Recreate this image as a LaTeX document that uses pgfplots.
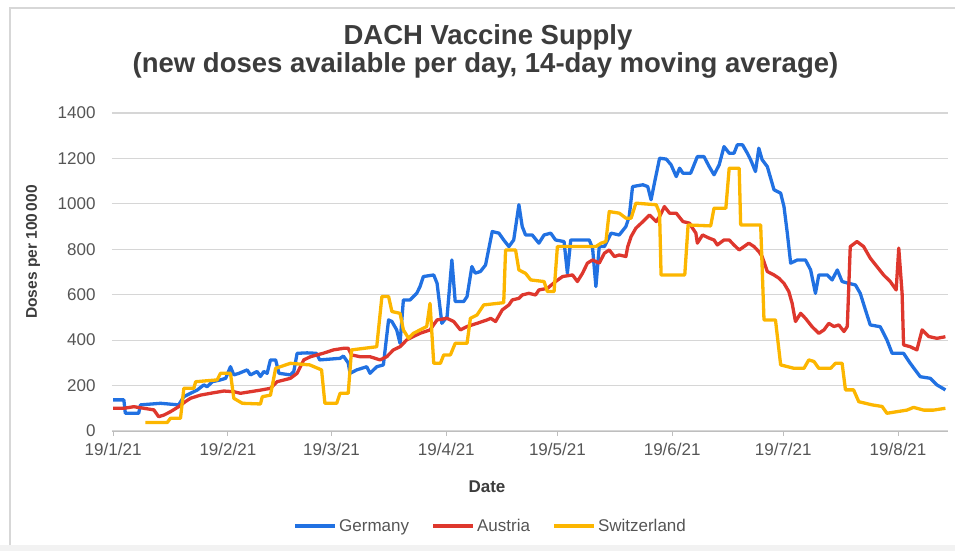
\documentclass[border=0pt]{standalone}
\usepackage{pgfplots}
\pgfplotsset{compat=1.18}
\usepackage{fontspec}
\setmainfont{Liberation Sans}
\definecolor{gblue}{RGB}{33,113,226}
\definecolor{gred}{RGB}{222,55,45}
\definecolor{gorange}{RGB}{252,182,0}
\definecolor{gridgray}{RGB}{214,214,214}
\definecolor{axisgray}{RGB}{190,190,190}
\definecolor{labelgray}{RGB}{85,85,85}
\definecolor{titlegray}{RGB}{60,60,60}
\definecolor{framegray}{RGB}{215,215,215}
\definecolor{bandgray}{RGB}{242,242,242}
\begin{document}
\begin{tikzpicture}[x=1pt,y=1pt]
\path[use as bounding box] (-112,-120) rectangle (843,431);
\fill[bandgray] (-112,-120) rectangle (843,-114);
\draw[framegray, line width=1.5pt] (-102,-114) -- (-102,423) -- (843,423);
\node[anchor=base, font=\bfseries\fontsize{27.5}{28}\selectfont, text=titlegray] at (376,386) {DACH Vaccine Supply};
\node[anchor=base, font=\bfseries\fontsize{27.5}{28}\selectfont, text=titlegray] at (373.5,358) {(new doses available per day, 14-day moving average)};
\begin{axis}[
  scale only axis, width=836pt, height=318pt,
  at={(0,0)}, anchor=south west,
  xmin=-0.3, xmax=225.5, ymin=0, ymax=1400,
  axis x line*=bottom, axis y line*=left,
  x axis line style={draw=axisgray, line width=1pt, -},
  y axis line style={draw=none},
  ytick={0,200,...,1400},
  xtick={0,31,59,90,120,151,181,212},
  xticklabels={19/1/21,19/2/21,19/3/21,19/4/21,19/5/21,19/6/21,19/7/21,19/8/21},
  ymajorgrids, grid style={draw=gridgray, line width=1.2pt},
  tick align=outside, major tick length=5pt,
  xtick style={draw=axisgray, line width=1pt},
  ytick style={draw=none},
  tick label style={font=\fontsize{17}{17}\selectfont, text=labelgray},
  yticklabel style={xshift=-8pt},
  xticklabel style={yshift=-4pt},
  /pgf/number format/assume math mode=true,
  /pgf/number format/1000 sep={},
  xlabel={Date}, ylabel={Doses per 100\,000},
  xlabel style={font=\bfseries\fontsize{17}{17}\selectfont, text=titlegray, at={(axis description cs:0.4486,-0.176)}, anchor=center},
  ylabel style={font=\bfseries\fontsize{15.5}{16}\selectfont, text=titlegray, at={(axis description cs:-0.0945,0.563)}, anchor=center},
  legend style={at={(axis description cs:0.4528,-0.2987)}, anchor=center, draw=none, fill=none, legend columns=3,
    font=\fontsize{17}{17}\selectfont, text=labelgray,
    /tikz/every even column/.append style={column sep=20pt}},
  legend image code/.code={\draw[#1, line width=4pt] (0pt,0pt) -- (40pt,0pt);},
  every axis plot/.append style={line width=3.3pt, line join=round, mark=none},
]
\addplot[gblue] coordinates {
(0,137)(2.9,137)(3.3,78)(6.9,78)(7.4,115)(12.8,122)(17.7,115)(19.1,151)(20.9,166)(22.7,180)
(24.5,203)(25.4,195)(26.8,217)(29,225)(30.4,232)(31.7,283)(32.6,247)(34,254)(36.2,269)(37.1,247)
(38.9,262)(39.8,240)(40.7,262)(41.6,254)(42.5,313)(43.9,313)(44.8,254)(47.9,247)(48.8,262)(49.7,342)
(52.4,344)(54.9,342)(55.8,313)(61.3,320)(62.2,330)(63.5,300)(64,254)(65.8,269)(68.5,283)(69.4,254)
(71.2,283)(73,291)(74.4,489)(75.3,482)(76.6,445)(77.5,386)(78.4,577)(80.2,577)(82,606)(82.9,636)
(83.8,680)(86.6,687)(87.5,650)(88.8,474)(90.2,503)(91.5,753)(92.4,570)(94.7,570)(95.6,592)(96.9,724)
(97.8,695)(99.2,702)(100.6,731)(102.4,878)(104.2,871)(105.5,841)(106.9,812)(108.2,841)(109.6,996)(110.5,900)
(111.4,863)(113.2,863)(115,827)(116.4,863)(118.2,871)(119.5,841)(121.8,834)(122.7,695)(123.6,841)(128.6,841)
(129.5,805)(130.4,636)(131.3,812)(132.7,812)(134.5,871)(136.7,863)(138.5,900)(139.4,944)(140.3,1076)(143.1,1084)
(144.4,1076)(145.3,1018)(146.2,1091)(147.6,1201)(149.4,1197)(150.7,1172)(152.1,1120)(153,1157)(153.9,1135)(156,1135)
(157.8,1208)(159.6,1208)(161,1164)(162.3,1128)(163.7,1172)(165,1252)(166.4,1223)(167.7,1223)(168.6,1260)(170,1260)
(171.3,1223)(172.2,1194)(173.5,1142)(174.4,1245)(175.3,1194)(176.7,1164)(178.5,1062)(180.3,1047)(181.2,988)(182.1,871)
(183,739)(184.8,753)(187,753)(188.4,709)(189.7,606)(190.6,687)(192.9,687)(194.2,665)(195.6,709)(196.9,658)
(198.7,650)(200.5,643)(201.8,606)(203.2,533)(204.5,467)(207.2,459)(209,401)(210.4,342)(213.5,342)(215.3,298)
(218,239)(220.7,232)(222.5,203)(224.8,181)
};
\addlegendentry{Germany}
\addplot[gred] coordinates {
(0,100)(2.9,100)(5.6,107)(8.3,100)(11,93)(12.3,63)(13.7,70)(15.5,85)(17.7,107)(19.5,129)
(20.9,144)(23.6,158)(26.3,166)(29.9,176)(32.6,173)(34.4,166)(37.1,173)(39.8,180)(42.5,188)(44.3,217)
(47.9,232)(49.7,254)(51.5,313)(53.3,327)(56.7,342)(59.5,357)(62.2,364)(63.5,364)(64.4,335)(66.7,327)
(69.4,327)(72.1,313)(73.9,327)(75.7,357)(77.5,371)(79.3,401)(81.1,416)(82.9,430)(85.6,445)(87.5,489)
(90.2,496)(92,482)(93.8,445)(95.6,460)(98.3,474)(101,489)(102,496)(103.3,482)(105.1,533)(106.9,555)
(107.8,577)(109.6,584)(110.5,599)(112.3,606)(114.1,599)(115,621)(117.3,628)(119.5,658)(121.4,680)(124.1,687)
(125.4,658)(126.8,695)(128.1,739)(129.5,753)(131.3,739)(132.7,783)(134,797)(135.4,768)(136.7,775)(138.5,768)
(139,812)(139.9,856)(141.2,893)(143.1,922)(144.9,951)(146.7,922)(147.6,944)(148.9,988)(150.3,959)(152.1,959)
(153.9,922)(155.7,915)(156.5,893)(157.4,871)(157.8,827)(159.2,863)(161,849)(162.3,841)(163.2,819)(165,841)
(166.4,841)(167.7,819)(169.1,797)(170.4,812)(171.7,827)(173.1,812)(174.4,790)(175.3,768)(176.7,702)(178.5,687)
(179.8,673)(181.2,650)(182.5,614)(183.4,562)(184.3,482)(185.7,518)(187,496)(188.8,459)(190.6,430)(192,445)
(193.3,474)(194.7,460)(196,467)(197.4,438)(198.3,460)(199.1,812)(200.9,834)(202.7,812)(204.5,761)(206.3,724)
(208.1,687)(209.9,658)(211.5,621)(212.2,805)(213.1,606)(213.5,379)(215.3,371)(217.1,357)(218.5,445)(220.3,416)
(222.5,408)(224.8,415)
};
\addlegendentry{Austria}
\addplot[gorange] coordinates {
(8.7,37)(14.6,37)(15.5,56)(18.2,56)(19.1,188)(21.8,188)(22.3,217)(28.1,225)(29,254)(31.7,254)
(32.6,144)(34.9,122)(39.8,119)(40.3,151)(42.5,158)(43.9,276)(47.9,298)(53.1,291)(56.3,269)(57.2,122)
(60.4,122)(61.3,166)(63.5,166)(64.4,357)(71.2,371)(72.6,592)(74.4,592)(75.3,526)(77.5,518)(78.4,445)
(79.8,408)(81.1,430)(82.9,445)(84.7,460)(85.6,562)(86.6,298)(88.4,298)(89.3,335)(91.1,335)(92.4,386)
(95.6,386)(96.5,496)(98.3,511)(100.1,555)(105.5,565)(106,797)(108.7,797)(109.6,709)(111.4,694)(112.8,665)
(116.4,658)(117.3,614)(119.1,614)(120,812)(130.4,812)(131.8,827)(133.1,834)(134,966)(136.7,959)(138.5,937)
(139.9,937)(141.2,1003)(146.7,996)(147.6,959)(148,687)(154.4,687)(155.3,907)(161.4,903)(162.3,981)(165.5,981)
(166.4,1157)(169.1,1157)(169.5,907)(174.9,907)(175.8,489)(178.9,489)(180.3,291)(183.9,276)(186.6,276)(187.9,313)
(189.3,306)(190.6,276)(193.8,276)(195.1,298)(196.9,298)(197.8,181)(200,181)(201.4,129)(205,115)(207.7,108)
(209,78)(211.7,85)(214.4,92)(216.2,104)(218.9,92)(221.6,92)(224.8,100)
};
\addlegendentry{Switzerland}
\end{axis}
\end{tikzpicture}
\end{document}
